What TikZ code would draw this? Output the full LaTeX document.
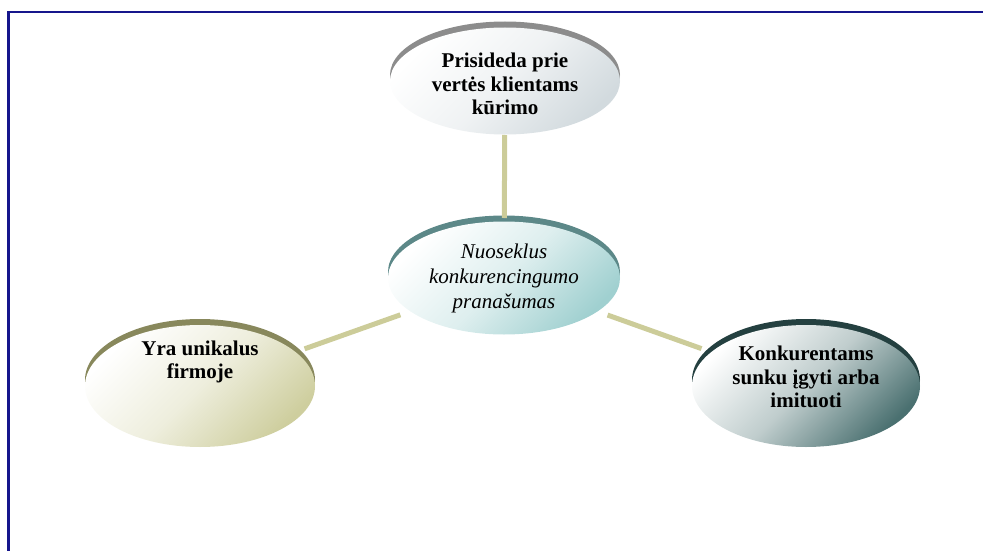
\documentclass[tikz,border=0pt]{standalone}
\usepackage{fontspec}
\setmainfont{Liberation Serif}
\usetikzlibrary{shapes.geometric,shadows}
\definecolor{frameblue}{RGB}{22,22,140}
\definecolor{linkc}{RGB}{204,204,153}
\definecolor{rimA}{RGB}{140,140,140}\definecolor{fillA}{RGB}{210,218,222}
\definecolor{rimB}{RGB}{92,136,136}\definecolor{fillB}{RGB}{160,208,208}
\definecolor{rimC}{RGB}{136,136,92}\definecolor{fillC}{RGB}{206,206,158}
\definecolor{rimD}{RGB}{36,64,64}\definecolor{fillD}{RGB}{74,112,112}
\tikzset{
  bubble/.style 2 args={ellipse, inner sep=0pt, shading=axis, top color=white,
     bottom color=#2, middle color=white!65!#2, shading angle=45,
     general shadow={fill=#1, shadow yshift=6pt, shadow xshift=0pt}},
  link/.style={draw=linkc, line width=5pt},
  btext/.style={font=\fontsize{21}{23.5}\selectfont\bfseries, align=center},
  itext/.style={font=\fontsize{21}{25}\selectfont\itshape, align=center},
  frameline/.style={draw=frameblue, line width=2.2pt}
}
\begin{document}
\begin{tikzpicture}[x=1pt,y=-1pt]
\useasboundingbox (0,0) rectangle (983,551);
\coordinate (f1) at (8.5,551);
\coordinate (f2) at (8.5,12);
\coordinate (f3) at (983,12);
\draw[frameline] (f1) -- (f2) -- (f3);
% nodes
\node[bubble={rimA}{fillA}, minimum width=230pt, minimum height=107pt] (t) at (505,81) {};
\node[bubble={rimB}{fillB}, minimum width=232pt, minimum height=113pt] (c) at (504,278) {};
\node[bubble={rimC}{fillC}, minimum width=230pt, minimum height=122pt] (l) at (200,386) {};
\node[bubble={rimD}{fillD}, minimum width=228pt, minimum height=122pt] (r) at (806,386) {};
% connectors
\draw[link, shorten <=54pt, shorten >=60pt] (t.center) -- (c.center);
\draw[link, shorten <=110pt, shorten >=111pt] (c.center) -- (l.center);
\draw[link, shorten <=110pt, shorten >=111pt] (c.center) -- (r.center);
% texts
\node[btext] (tt) at (505,84) {Prisideda prie\\vertės klientams\\kūrimo};
\node[itext] (ct) at (504,278) {Nuoseklus\\konkurencingumo\\pranašumas};
\node[btext] (lt) at (200,362) {Yra unikalus\\firmoje};
\node[btext] (rt) at (806,377) {Konkurentams\\sunku įgyti arba\\imituoti};
\end{tikzpicture}
\end{document}
